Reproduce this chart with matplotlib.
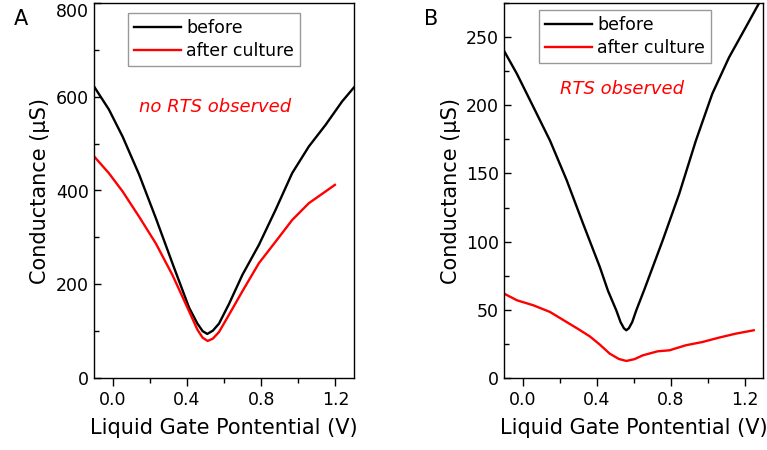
import numpy as np
import matplotlib.pyplot as plt
from matplotlib.ticker import MultipleLocator

# panel A: device with no RTS after culture
a_v_before = [-0.10, -0.02, 0.054, 0.143, 0.233, 0.322, 0.412, 0.457, 0.485, 0.510,
              0.540, 0.573, 0.627, 0.699, 0.788, 0.878, 0.967, 1.057, 1.147, 1.236, 1.30]
a_g_before = [622, 573, 515, 434, 341, 245, 150, 116, 100, 94,
              101, 116, 158, 220, 284, 359, 437, 494, 540, 590, 620]
a_v_after = [-0.10, -0.02, 0.054, 0.143, 0.233, 0.322, 0.394, 0.457, 0.485, 0.512,
             0.540, 0.573, 0.627, 0.699, 0.788, 0.878, 0.967, 1.057, 1.147, 1.197]
a_g_after = [473, 437, 398, 344, 287, 220, 158, 103, 86, 79,
             84, 98, 135, 185, 245, 291, 337, 373, 398, 412]

# panel B: device showing RTS after culture
b_v_before = [-0.10, -0.03, 0.059, 0.149, 0.239, 0.328, 0.418, 0.462, 0.507, 0.530, 0.548,
              0.561, 0.575, 0.593, 0.615, 0.659, 0.758, 0.847, 0.937, 1.026, 1.116, 1.206,
              1.277, 1.30]
b_g_before = [240, 223, 198.7, 174, 145, 113, 81.4, 64, 49.6, 41, 36.5,
              35, 36.5, 41, 49.6, 65, 101, 135, 174, 208.5, 235, 257,
              274.5, 280]
b_v_after = [-0.10, -0.03, 0.059, 0.149, 0.239, 0.300, 0.364, 0.418, 0.471, 0.520, 0.561,
             0.605, 0.650, 0.731, 0.794, 0.883, 0.973, 1.062, 1.152, 1.25]
b_g_after = [61.9, 57, 53.3, 48.4, 41, 36, 30.5, 24.5, 17.9, 14, 12.5,
             13.8, 16.6, 19.6, 20.3, 24, 26.4, 29.6, 32.5, 35]

plt.rcParams['font.family'] = 'DejaVu Sans'

fig = plt.figure(figsize=(7.67, 4.5), dpi=100)
axA = fig.add_axes([94 / 767, 72 / 450, 260 / 767, 375 / 450])
axB = fig.add_axes([504 / 767, 72 / 450, 259 / 767, 375 / 450])

panels = [
    (axA, a_v_before, a_g_before, a_v_after, a_g_after, (0, 800), 200, 100,
     'no RTS observed', (0.552, 579), 'A', (0.131, 0.973)),
    (axB, b_v_before, b_g_before, b_v_after, b_g_after, (0, 275), 50, 25,
     'RTS observed', (0.536, 212), 'B', (0.135, 0.981)),
]

for ax, vb, gb, va, ga, ylim, ymaj, ymin, note, note_xy, letter, leg_xy in panels:
    ax.plot(vb, gb, color='black', lw=1.7, label='before', solid_joinstyle='round')
    ax.plot(va, ga, color='red', lw=1.7, label='after culture', solid_joinstyle='round')
    ax.set_xlim(-0.1, 1.3)
    ax.set_ylim(*ylim)
    ax.xaxis.set_major_locator(MultipleLocator(0.4))
    ax.xaxis.set_minor_locator(MultipleLocator(0.2))
    ax.set_yticks(np.arange(0, ylim[1] + 1, ymaj))
    ax.yaxis.set_minor_locator(MultipleLocator(ymin))
    ax.xaxis.set_major_formatter(lambda v, p: f'{v:.1f}')
    ax.tick_params(axis='x', which='major', direction='out', length=6, width=1, labelsize=12.5)
    ax.tick_params(axis='x', which='minor', direction='out', length=3.5, width=1)
    ax.tick_params(axis='y', which='major', direction='in', length=5, width=1, labelsize=12.5)
    ax.tick_params(axis='y', which='minor', direction='in', length=3.5, width=1)
    for sp in ax.spines.values():
        sp.set_linewidth(1.0)
    ax.set_xlabel('Liquid Gate Pontential (V)', fontsize=15, labelpad=6)
    ax.set_ylabel('Conductance (µS)', fontsize=15, labelpad=4)
    ax.text(note_xy[0], note_xy[1], note, color='red', style='italic', fontsize=13,
            ha='center', va='center')
    ax.text(-0.28, 0.985, letter, transform=ax.transAxes, fontsize=15, ha='center', va='top')
    leg = ax.legend(loc='upper left', bbox_to_anchor=leg_xy, fontsize=12.5, frameon=True,
                    fancybox=False, edgecolor='gray', handlelength=2.7, handletextpad=0.3,
                    borderpad=0.35, labelspacing=0.3, borderaxespad=0)
    leg.get_frame().set_linewidth(1.0)

fig.canvas.draw()
# the 800 label sits at the very top edge; hang it below its tick
top_tick = axA.yaxis.get_major_ticks()[-1]
top_tick.label1.set_verticalalignment('top')

fig.savefig('out.png', dpi=100)
